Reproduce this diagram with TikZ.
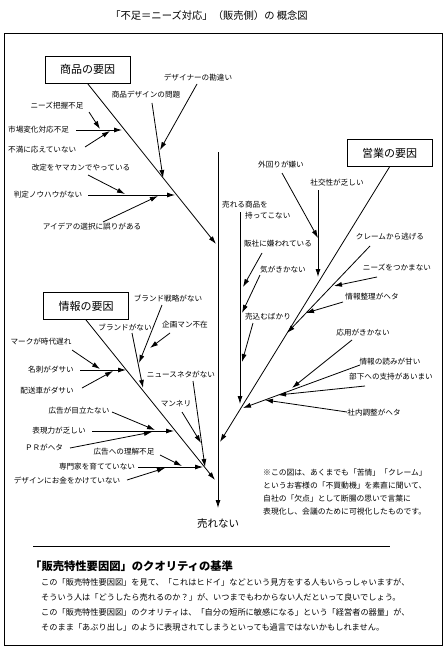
\documentclass[tikz,border=0pt]{standalone}
\usepackage{fontspec}
\setmainfont{Noto Sans CJK JP}
\usetikzlibrary{positioning,arrows.meta,calc}

\begin{document}
\begin{tikzpicture}[x=1pt,y=-1pt,
  font=\fontsize{7.6}{9}\selectfont,
  lbl/.style={inner sep=0pt},
  cause/.style={draw, line width=0.9pt, minimum width=85pt, minimum height=27pt, inner sep=0pt, font=\fontsize{11}{13}\selectfont},
  bone/.style={line width=0.8pt},
  arr/.style={-{Latex[length=8pt,width=5pt]}, line width=0.8pt}
]
\useasboundingbox (0,0) rectangle (446,650);
\node[font=\fontsize{10.3}{12}\selectfont] (title) at (209,16) {「不足＝ニーズ対応」（販売側）の 概念図};
\draw[line width=1pt] (4,34) rectangle (442,645);

% spine
\coordinate (spineS) at (218,152);
\coordinate (spineE) at (218,508);
\draw[arr] (spineS) -- (spineE);
\node[font=\fontsize{10.5}{12}\selectfont] (result) at (218,524) {売れない};

% product causes
\node[cause] (prod) at (87.5,69.5) {商品の要因};
\coordinate (prodE) at (216,244);
\draw[arr] (prod.south) -- (prodE);
\node[lbl] (design) at (146,95) {商品デザインの問題};
\node[lbl] (designer) at (198,78) {デザイナーの勘違い};
\node[lbl] (needs) at (57,106) {ニーズ把握不足};
\node[lbl, anchor=west] (market) at (8,130) {市場変化対応不足};
\node[lbl, anchor=west] (unmet) at (8,150) {不満に応えていない};
\node[lbl] (guess) at (81,168) {改定をヤマカンでやっている};
\node[lbl] (knowhow) at (48,195) {判定ノウハウがない};
\node[lbl] (idea) at (92,227) {アイデアの選択に誤りがある};
\coordinate (designS) at (152,103);   \coordinate (designE) at (163,178);
\coordinate (designerS) at (197,84);  \coordinate (designerE) at (160,150);
\coordinate (needsS) at (89,112);     \coordinate (needsE) at (100,129);
\coordinate (marketS) at (76,130);    \coordinate (marketE) at (122,130);
\coordinate (unmetS) at (85,147);     \coordinate (unmetE) at (110,131);
\coordinate (guessS) at (88,175);     \coordinate (guessE) at (125,194);
\coordinate (knowhowS) at (88,195);   \coordinate (knowhowE) at (175,195);
\coordinate (ideaS) at (103,222);     \coordinate (ideaE) at (158,196);
\draw[arr] (designS) -- (designE);
\draw[arr] (designerS) -- (designerE);
\draw[arr] (needsS) -- (needsE);
\draw[arr] (marketS) -- (marketE);
\draw[arr] (unmetS) -- (unmetE);
\draw[arr] (guessS) -- (guessE);
\draw[arr] (knowhowS) -- (knowhowE);
\draw[arr] (ideaS) -- (ideaE);

% information causes
\node[cause] (info) at (86,306) {情報の要因};
\coordinate (infoE) at (215,480);
\draw[arr] (info.south) -- (infoE);
\node[lbl] (strategy) at (168,299) {ブランド戦略がない};
\node[lbl] (brand) at (125,327) {ブランドがない};
\node[lbl] (planner) at (185,325) {企画マン不在};
\node[lbl] (mark) at (41,342) {マークが時代遅れ};
\node[lbl] (card) at (51,370) {名刺がダサい};
\node[lbl] (truck) at (47,391) {配送車がダサい};
\node[lbl] (news) at (181,374) {ニュースネタがない};
\node[lbl] (rut) at (176,404) {マンネリ};
\node[lbl] (adplain) at (79,411) {広告が目立たない};
\node[lbl] (express) at (59,431) {表現力が乏しい};
\node[lbl] (pr) at (44,447) {ＰＲがヘタ};
\node[lbl] (adknow) at (124,452) {広告への理解不足};
\node[lbl] (expert) at (97,467) {専門家を育てていない};
\node[lbl] (money) at (67,481) {デザインにお金をかけていない};
\coordinate (strategyS) at (162,305); \coordinate (strategyE) at (139,363);
\coordinate (brandS) at (132,333);    \coordinate (brandE) at (143,388);
\coordinate (plannerS) at (170,333);  \coordinate (plannerE) at (150,348);
\coordinate (markS) at (72,350);      \coordinate (markE) at (100,369);
\coordinate (cardS) at (80,370);      \coordinate (cardE) at (126,370);
\coordinate (truckS) at (82,388);     \coordinate (truckE) at (113,371);
\coordinate (newsS) at (193,381);     \coordinate (newsE) at (205,467);
\coordinate (rutS) at (182,412);      \coordinate (rutE) at (201,443);
\coordinate (adplainS) at (112,412);  \coordinate (adplainE) at (155,430);
\coordinate (expressS) at (92,431);   \coordinate (expressE) at (174,431);
\coordinate (prS) at (70,448);        \coordinate (prE) at (152,432);
\coordinate (adknowS) at (160,455);   \coordinate (adknowE) at (182,466);
\coordinate (expertS) at (138,467);   \coordinate (expertE) at (203,467);
\coordinate (moneyS) at (127,480);    \coordinate (moneyE) at (165,468);
\draw[arr] (strategyS) -- (strategyE);
\draw[arr] (brandS) -- (brandE);
\draw[arr] (plannerS) -- (plannerE);
\draw[arr] (markS) -- (markE);
\draw[arr] (cardS) -- (cardE);
\draw[arr] (truckS) -- (truckE);
\draw[arr] (newsS) -- (newsE);
\draw[arr] (rutS) -- (rutE);
\draw[arr] (adplainS) -- (adplainE);
\draw[arr] (expressS) -- (expressE);
\draw[arr] (prS) -- (prE);
\draw[arr] (adknowS) -- (adknowE);
\draw[arr] (expertS) -- (expertE);
\draw[arr] (moneyS) -- (moneyE);

% sales causes
\node[cause] (sales) at (389.5,153) {営業の要因};
\coordinate (salesE) at (220,442);
\draw[arr] (sales.south) -- (salesE);
\node[lbl] (outside) at (281,165) {外回りが嫌い};
\node[lbl] (social) at (337,183) {社交性が乏しい};
\node[lbl, anchor=west] (goods) at (222,205) {売れる商品を};
\node[lbl, anchor=west] (goods2) at (245,216) {持ってこない};
\node[lbl] (dealer) at (278,244) {販社に嫌われている};
\node[lbl] (tact) at (283,270) {気がきかない};
\node[lbl] (push) at (268,317) {売込むばかり};
\node[lbl] (claim) at (390,237) {クレームから逃げる};
\node[lbl] (grasp) at (397,267) {ニーズをつかまない};
\node[lbl] (sort) at (372,297) {情報整理がヘタ};
\node[lbl] (apply) at (363,333) {応用がきかない};
\node[lbl] (read) at (390,362) {情報の読みが甘い};
\node[lbl] (staff) at (391,377) {部下への支持があいまい};
\node[lbl] (coord) at (374,413) {社内調整がヘタ};
\coordinate (outsideS) at (282,173); \coordinate (outsideE) at (318,238);
\coordinate (socialS) at (318,190);  \coordinate (socialE) at (318,277);
\coordinate (goodsS) at (240,212);   \coordinate (goodsE) at (240,404);
\coordinate (dealerS) at (262,253);  \coordinate (dealerE) at (243,287);
\coordinate (tactS) at (260,275);    \coordinate (tactE) at (242,313);
\coordinate (pushS) at (253,323);    \coordinate (pushE) at (242,362);
\coordinate (claimS) at (370,246);   \coordinate (claimE) at (287,333);
\coordinate (graspS) at (377,277);   \coordinate (graspE) at (334,286);
\coordinate (sortS) at (343,302);    \coordinate (sortE) at (306,313);
\coordinate (applyS) at (352,340);   \coordinate (applyE) at (292,388);
\coordinate (readS) at (360,365);    \coordinate (readE) at (243,408);
\coordinate (staffS) at (365,386);   \coordinate (staffE) at (278,395);
\coordinate (coordS) at (347,412);   \coordinate (coordE) at (265,400);
\draw[arr] (outsideS) -- (outsideE);
\draw[arr] (socialS) -- (socialE);
\draw[arr] (goodsS) -- (goodsE);
\draw[arr] (dealerS) -- (dealerE);
\draw[arr] (tactS) -- (tactE);
\draw[arr] (pushS) -- (pushE);
\draw[arr] (claimS) -- (claimE);
\draw[arr] (graspS) -- (graspE);
\draw[arr] (sortS) -- (sortE);
\draw[arr] (applyS) -- (applyE);
\draw[arr] (readS) -- (readE);
\draw[arr] (staffS) -- (staffE);
\draw[arr] (coordS) -- (coordE);

% note
\node[lbl, anchor=west, align=left, font=\fontsize{7.8}{13}\selectfont] (note) at (263,492.5)
  {※この図は、あくまでも「苦情」「クレーム」\\というお客様の「不買動機」を素直に聞いて、\\自社の「欠点」として断腸の思いで言葉に\\表現化し、会議のために可視化したものです。};

% quality criteria
\coordinate (ruleL) at (33,546);
\coordinate (ruleR) at (390,546);
\draw[line width=1pt] (ruleL) -- (ruleR);
\node[lbl, anchor=west, font=\fontsize{11.3}{13}\selectfont\bfseries] (head) at (30,566) {「販売特性要因図」のクオリティの基準};
\node[lbl, anchor=west, align=left, font=\fontsize{8.2}{15}\selectfont] (body) at (41,604.5)
  {この「販売特性要因図」を見て、「これはヒドイ」などという見方をする人もいらっしゃいますが、\\そういう人は「どうしたら売れるのか？」が、いつまでもわからない人だといって良いでしょう。\\この「販売特性要因図」のクオリティは、「自分の短所に敏感になる」という「経営者の器量」が、\\そのまま「あぶり出し」のように表現されてしまうといっても過言ではないかもしれません。};
\end{tikzpicture}
\end{document}
